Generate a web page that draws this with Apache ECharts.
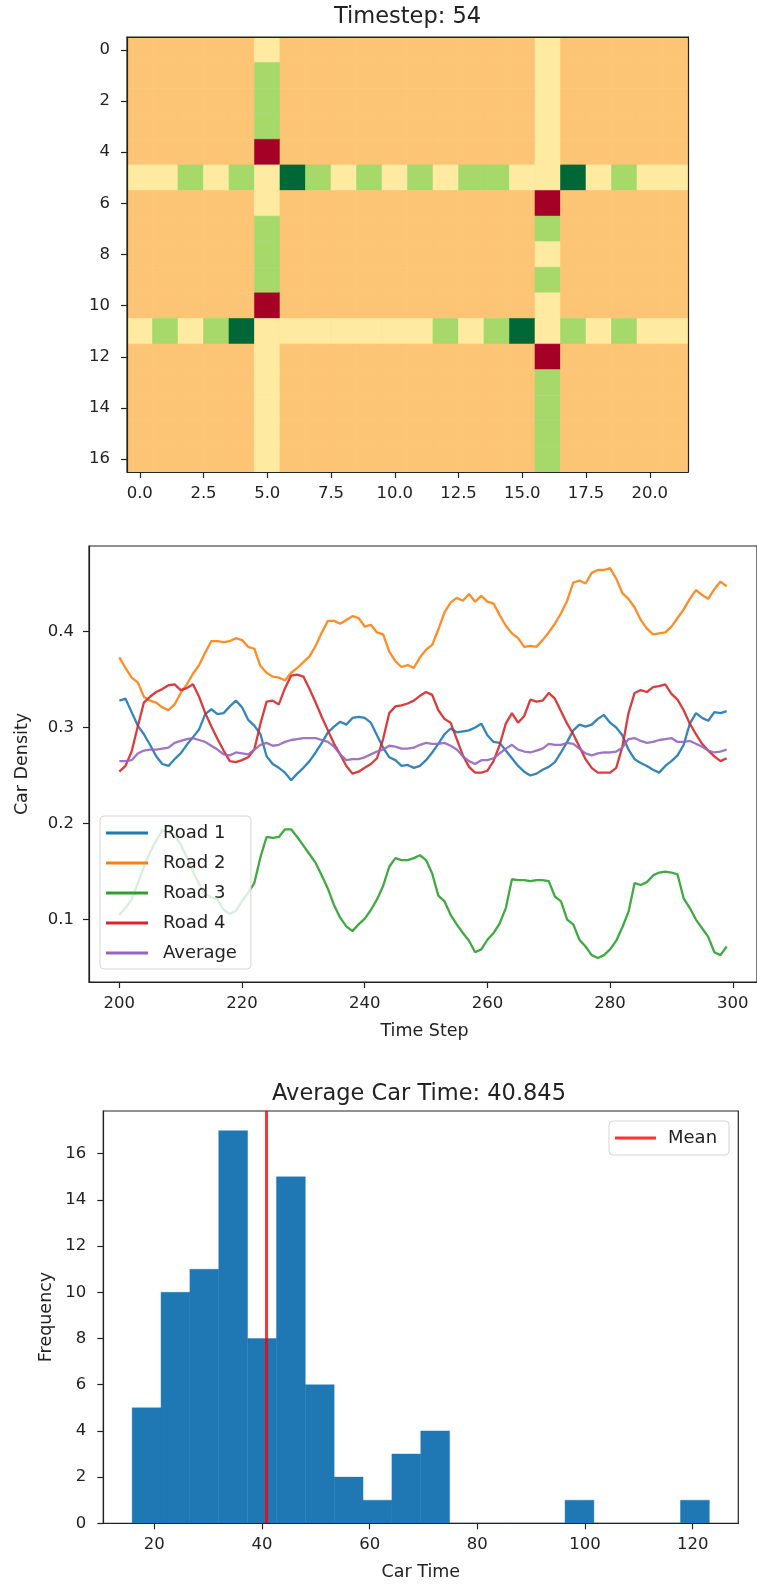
<!DOCTYPE html>
<html><head><meta charset="utf-8">
<script src="https://cdn.jsdelivr.net/npm/echarts@6/dist/echarts.min.js"></script>
<style>html,body{margin:0;padding:0;background:#fff}#c{width:757px;height:1587px}</style>
</head><body><div id="c"></div>
<script>
// ---------- Panel 1: grid snapshot ----------
const heatTitle = 'Timestep: 54';
// R = dark red, O = orange, P = pale yellow, G = light green, D = dark green
const heatRows = [
  'OOOOOPOOOOOOOOOOPOOOOO',
  'OOOOOGOOOOOOOOOOPOOOOO',
  'OOOOOGOOOOOOOOOOPOOOOO',
  'OOOOOGOOOOOOOOOOPOOOOO',
  'OOOOOROOOOOOOOOOPOOOOO',
  'PPGPGPDGPGPGPGGPPDPGPP',
  'OOOOOPOOOOOOOOOOROOOOO',
  'OOOOOGOOOOOOOOOOGOOOOO',
  'OOOOOGOOOOOOOOOOPOOOOO',
  'OOOOOGOOOOOOOOOOGOOOOO',
  'OOOOOROOOOOOOOOOPOOOOO',
  'PGPGDPPPPPPPGPGDPGPGPP',
  'OOOOOPOOOOOOOOOOROOOOO',
  'OOOOOPOOOOOOOOOOGOOOOO',
  'OOOOOPOOOOOOOOOOGOOOOO',
  'OOOOOPOOOOOOOOOOGOOOOO',
  'OOOOOPOOOOOOOOOOGOOOOO'
];
const cellCodes = 'ROPGD';
const cellPalette = ['#a50026', '#fcc575', '#feeaa0', '#a6d96a', '#006837'];
const heatXTicks = [0, 2.5, 5, 7.5, 10, 12.5, 15, 17.5, 20];
const heatYTicks = [0, 2, 4, 6, 8, 10, 12, 14, 16];

// ---------- Panel 2: densities ----------
const firstStep = 200;
const lineXTicks = [200, 220, 240, 260, 280, 300];
const lineYTicks = [0.1, 0.2, 0.3, 0.4];
const road1 = [0.328,0.330,0.316,0.302,0.293,0.282,0.270,0.262,0.260,0.267,
  0.273,0.282,0.290,0.298,0.314,0.319,0.314,0.315,0.322,0.328,
  0.321,0.308,0.302,0.293,0.270,0.262,0.258,0.253,0.245,0.252,
  0.258,0.265,0.274,0.284,0.295,0.301,0.306,0.303,0.310,0.311,
  0.310,0.305,0.292,0.279,0.269,0.266,0.260,0.261,0.258,0.260,
  0.266,0.274,0.283,0.293,0.299,0.295,0.296,0.297,0.300,0.304,
  0.292,0.285,0.284,0.276,0.268,0.260,0.254,0.250,0.252,0.256,
  0.259,0.264,0.274,0.285,0.297,0.303,0.301,0.303,0.309,0.313,
  0.305,0.300,0.292,0.277,0.267,0.263,0.260,0.256,0.253,0.260,
  0.265,0.271,0.282,0.304,0.315,0.310,0.307,0.316,0.315,0.317];
const road2 = [0.373,0.362,0.352,0.347,0.332,0.328,0.326,0.321,0.318,0.324,
  0.336,0.345,0.356,0.365,0.378,0.390,0.390,0.389,0.390,0.393,
  0.391,0.384,0.382,0.364,0.357,0.353,0.352,0.349,0.357,0.362,
  0.368,0.374,0.385,0.399,0.411,0.411,0.408,0.412,0.416,0.414,
  0.405,0.407,0.399,0.397,0.379,0.369,0.363,0.365,0.362,0.373,
  0.381,0.386,0.402,0.420,0.430,0.435,0.432,0.439,0.431,0.437,
  0.431,0.429,0.417,0.406,0.398,0.393,0.384,0.385,0.384,0.391,
  0.399,0.408,0.419,0.432,0.451,0.453,0.450,0.461,0.464,0.464,
  0.466,0.455,0.440,0.434,0.425,0.412,0.403,0.397,0.398,0.399,
  0.405,0.414,0.423,0.434,0.443,0.438,0.434,0.444,0.452,0.447];
const road3 = [0.105,0.112,0.121,0.138,0.155,0.170,0.182,0.193,0.191,0.188,
  0.178,0.165,0.150,0.137,0.127,0.123,0.121,0.110,0.106,0.109,
  0.119,0.128,0.138,0.165,0.186,0.185,0.186,0.194,0.194,0.186,
  0.177,0.168,0.159,0.146,0.132,0.115,0.102,0.093,0.088,0.095,
  0.101,0.110,0.121,0.135,0.155,0.164,0.162,0.162,0.164,0.167,
  0.162,0.148,0.125,0.119,0.105,0.095,0.086,0.078,0.066,0.069,
  0.079,0.086,0.096,0.112,0.142,0.141,0.141,0.140,0.141,0.141,
  0.140,0.124,0.119,0.100,0.095,0.079,0.072,0.063,0.060,0.063,
  0.069,0.078,0.092,0.108,0.138,0.136,0.139,0.146,0.149,0.150,
  0.149,0.147,0.122,0.112,0.100,0.091,0.082,0.066,0.063,0.072];
const road4 = [0.254,0.260,0.275,0.301,0.326,0.332,0.337,0.340,0.344,0.345,
  0.339,0.341,0.345,0.332,0.315,0.301,0.288,0.276,0.265,0.264,
  0.266,0.269,0.277,0.304,0.327,0.328,0.324,0.341,0.354,0.355,
  0.353,0.340,0.326,0.311,0.297,0.283,0.272,0.260,0.252,0.254,
  0.258,0.262,0.268,0.288,0.315,0.322,0.323,0.325,0.328,0.333,
  0.337,0.334,0.318,0.309,0.305,0.288,0.271,0.259,0.253,0.253,
  0.255,0.265,0.282,0.304,0.315,0.305,0.312,0.329,0.327,0.328,
  0.336,0.330,0.317,0.304,0.293,0.280,0.267,0.258,0.253,0.253,
  0.253,0.258,0.280,0.315,0.336,0.339,0.337,0.342,0.343,0.345,
  0.335,0.329,0.318,0.304,0.293,0.283,0.276,0.270,0.265,0.268];
const roadAvg = [0.265,0.265,0.266,0.273,0.276,0.277,0.277,0.278,0.279,0.284,
  0.286,0.288,0.289,0.287,0.285,0.281,0.277,0.272,0.271,0.274,
  0.273,0.272,0.277,0.282,0.284,0.281,0.282,0.285,0.287,0.288,
  0.289,0.289,0.289,0.287,0.285,0.280,0.272,0.266,0.267,0.267,
  0.269,0.272,0.275,0.277,0.281,0.280,0.278,0.278,0.279,0.282,
  0.284,0.283,0.283,0.284,0.281,0.277,0.270,0.265,0.262,0.266,
  0.266,0.268,0.273,0.278,0.282,0.277,0.275,0.274,0.276,0.278,
  0.283,0.282,0.282,0.284,0.283,0.278,0.273,0.271,0.273,0.274,
  0.274,0.275,0.279,0.288,0.289,0.286,0.284,0.285,0.287,0.288,
  0.289,0.285,0.285,0.286,0.283,0.280,0.276,0.274,0.275,0.277];
const lineNames = ['Road 1', 'Road 2', 'Road 3', 'Road 4', 'Average'];
const lineColors = ['#1f77b4', '#ff7f0e', '#2ca02c', '#d62728', '#9467bd'];

// ---------- Panel 3: histogram ----------
const histTitle = 'Average Car Time: 40.845';
const histEdges = [15.89,21.25,26.61,31.97,37.33,42.69,48.05,53.41,58.77,64.13,69.49,
  74.85,80.21,85.57,90.93,96.29,101.65,107.01,112.37,117.73,123.09];
const histCounts = [5,10,11,17,8,15,6,2,1,3,4,0,0,0,0,1,0,0,0,1];
const meanTime = 40.845;
const histXTicks = [20, 40, 60, 80, 100, 120];
const histYTicks = [0, 2, 4, 6, 8, 10, 12, 14, 16];

// ---------- build ----------
const FONT = 'DejaVu Sans';
const TXT = '#222';
const heatData = [];
heatRows.forEach((row, r) => { for (let c = 0; c < row.length; c++) heatData.push([c, r, cellCodes.indexOf(row[c])]); });
const steps = road1.map((_, i) => firstStep + i);
const lineSeriesData = [road1, road2, road3, road4, roadAvg];
const histData = histCounts.map((n, i) => [histEdges[i], histEdges[i + 1], n]);

function ax(gridIndex, min, max, ticks, fmt, margin, extra) {
  return Object.assign({
    type: 'value', gridIndex, min, max, z: 5,
    axisLine: { show: true, onZero: false, lineStyle: { color: '#222', width: 1.2 } },
    axisTick: { show: true, customValues: ticks, length: 6, lineStyle: { color: '#222', width: 1.2 } },
    axisLabel: { customValues: ticks, formatter: fmt, color: TXT, fontSize: 16.5, fontFamily: FONT, margin },
    splitLine: { show: false }
  }, extra || {});
}
function frameAx(gridIndex, min, max, position, extra) {
  return Object.assign({
    type: 'value', gridIndex, min, max, position, z: 5,
    axisLine: { show: true, onZero: false, lineStyle: { color: '#222', width: 1.2 } },
    axisTick: { show: false }, axisLabel: { show: false }, splitLine: { show: false }
  }, extra || {});
}
const f1 = v => v.toFixed(1);
const f0 = v => String(Math.round(v));

const option = {
  animation: false,
  backgroundColor: '#fff',
  grid: [
    { left: 127, top: 37, width: 561, height: 435, show: true, borderColor: '#222', borderWidth: 1.2 },
    { left: 89, top: 546, width: 671, height: 436, show: true, borderColor: '#222', borderWidth: 1.2 },
    { left: 103.3, top: 1111, width: 635, height: 412.3, show: true, borderColor: '#222', borderWidth: 1.2 }
  ],
  xAxis: [
    ax(0, -0.5, 21.5, heatXTicks, f1, 13),
    ax(1, 195.05, 303.95, lineXTicks, f0, 13),
    ax(2, 10.53, 128.47, histXTicks, f0, 13),
    frameAx(0, -0.5, 21.5, 'top')
  ],
  yAxis: [
    ax(0, -0.5, 16.5, heatYTicks, f0, 17, { inverse: true }),
    ax(1, 0.035, 0.489, lineYTicks, f1, 15),
    ax(2, 0, 17.85, histYTicks, f0, 17),
    frameAx(0, -0.5, 16.5, 'right', { inverse: true })
  ],
  legend: [
    {
      data: lineNames, orient: 'vertical', left: 100, top: 816,
      icon: 'rect', itemWidth: 42, itemHeight: 3, itemGap: 10,
      padding: [7, 14, 6, 6], backgroundColor: 'rgba(255,255,255,0.8)',
      borderColor: '#d5d5d5', borderWidth: 1, borderRadius: 4,
      textStyle: { fontSize: 18, fontFamily: FONT, color: TXT, lineHeight: 20, padding: [0, 0, 0, 10] }
    },
    {
      data: ['Mean'], orient: 'vertical', left: 609, top: 1121,
      icon: 'rect', itemWidth: 41, itemHeight: 3,
      padding: [7, 12, 7, 6], backgroundColor: 'rgba(255,255,255,0.8)',
      borderColor: '#d5d5d5', borderWidth: 1, borderRadius: 4,
      textStyle: { fontSize: 18, fontFamily: FONT, color: TXT, lineHeight: 20, padding: [0, 0, 0, 7] }
    }
  ],
  graphic: [
    { type: 'text', x: 407.5, y: 17, style: { text: heatTitle, align: 'center', verticalAlign: 'middle', fontSize: 22.5, fontFamily: FONT, fill: TXT } },
    { type: 'text', x: 22.5, y: 764, rotation: Math.PI / 2, style: { text: 'Car Density', align: 'center', verticalAlign: 'middle', fontSize: 17.5, fontFamily: FONT, fill: TXT } },
    { type: 'text', x: 424.5, y: 1031, style: { text: 'Time Step', align: 'center', verticalAlign: 'middle', fontSize: 17.5, fontFamily: FONT, fill: TXT } },
    { type: 'text', x: 419, y: 1094, style: { text: histTitle, align: 'center', verticalAlign: 'middle', fontSize: 22.5, fontFamily: FONT, fill: TXT } },
    { type: 'text', x: 46.5, y: 1317, rotation: Math.PI / 2, style: { text: 'Frequency', align: 'center', verticalAlign: 'middle', fontSize: 17.5, fontFamily: FONT, fill: TXT } },
    { type: 'text', x: 420.8, y: 1572, style: { text: 'Car Time', align: 'center', verticalAlign: 'middle', fontSize: 17.5, fontFamily: FONT, fill: TXT } }
  ],
  series: [
    {
      type: 'custom', xAxisIndex: 0, yAxisIndex: 0, clip: true, data: heatData,
      renderItem: function (params, api) {
        const c = api.value(0), r = api.value(1), k = api.value(2);
        const a = api.coord([c - 0.5, r - 0.5]), b = api.coord([c + 0.5, r + 0.5]);
        const col = cellPalette[k];
        return { type: 'rect', shape: { x: Math.min(a[0], b[0]), y: Math.min(a[1], b[1]), width: Math.abs(b[0] - a[0]), height: Math.abs(b[1] - a[1]) },
          style: { fill: col, stroke: col, lineWidth: 0.6 } };
      }
    }
  ].concat(lineSeriesData.map((vals, i) => ({
    name: lineNames[i], type: 'line', xAxisIndex: 1, yAxisIndex: 1,
    showSymbol: false, symbol: 'none', color: lineColors[i],
    lineStyle: { width: 2.3, color: lineColors[i], opacity: 0.9 },
    data: vals.map((v, j) => [steps[j], v])
  }))).concat([
    {
      type: 'custom', xAxisIndex: 2, yAxisIndex: 2, clip: true, data: histData,
      renderItem: function (params, api) {
        const a = api.coord([api.value(0), 0]), b = api.coord([api.value(1), api.value(2)]);
        return { type: 'rect', shape: { x: a[0], y: b[1], width: b[0] - a[0], height: a[1] - b[1] },
          style: { fill: '#1f77b4', stroke: '#1f77b4', lineWidth: 0.4 } };
      }
    },
    {
      name: 'Mean', type: 'line', xAxisIndex: 2, yAxisIndex: 2, showSymbol: false, symbol: 'none',
      color: 'rgba(255,0,0,0.8)', lineStyle: { width: 3, color: 'rgba(255,0,0,0.8)' },
      data: [[meanTime, 0], [meanTime, 17.85]]
    }
  ])
};
const chart = echarts.init(document.getElementById('c'), null, { renderer: 'canvas' });
chart.setOption(option);
</script></body></html>
